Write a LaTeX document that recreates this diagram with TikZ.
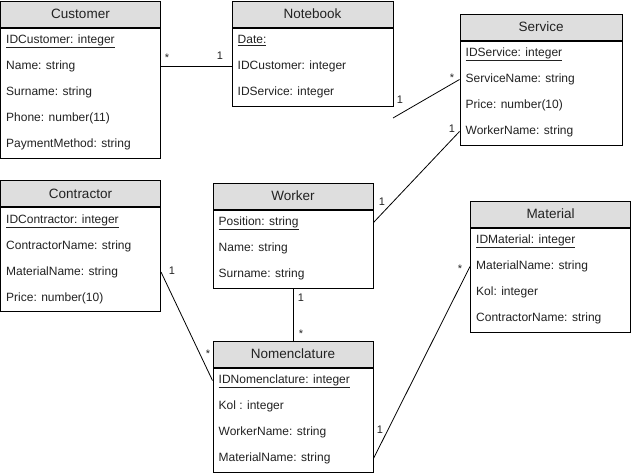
\documentclass[tikz,border=0pt]{standalone}
\usepackage{fontspec}
\setmainfont{Liberation Sans}
\usetikzlibrary{positioning}
\usepackage{xcolor}
\definecolor{headGray}{HTML}{DEDEDE}
\definecolor{textGray}{HTML}{222222}
\newcommand{\pxUnit}{1pt}
\newcommand{\rowHeight}{26pt}
\newcommand{\headHeight}{26pt}
\newcommand{\classWidth}{160pt}

\begin{document}
\begin{tikzpicture}[x=\pxUnit, y=-\pxUnit,
  classhead/.style={draw, fill=headGray, line width=1pt, minimum width=\classWidth, minimum height=\headHeight, inner sep=0pt, font=\fontsize{13.5}{16}\selectfont, text=textGray},
  classbody/.style={draw, fill=white, line width=1pt, minimum width=\classWidth, inner sep=0pt},
  attr/.style={anchor=west, inner sep=0pt, text height=9pt, text depth=3pt, font=\fontsize{12}{14}\selectfont, text=textGray},
  mult/.style={inner sep=0pt, text height=9pt, text depth=0pt, font=\fontsize{11}{13}\selectfont, text=textGray},
  link/.style={draw, line width=0.8pt}]
\useasboundingbox (0,0) rectangle (631,474);

% Customer
\node[classhead] (customer) at (80.5,14) {Customer};
\node[classbody, minimum height=130pt, below=0pt of customer] (customerbody) {};
\node[attr] (customer-1) at ([shift={(6pt,-13pt)}]customerbody.north west) {\underline{IDCustomer: integer}};
\node[attr] (customer-2) at ([yshift=-\rowHeight]customer-1.west) {Name: string};
\node[attr] (customer-3) at ([yshift=-\rowHeight]customer-2.west) {Surname: string};
\node[attr] (customer-4) at ([yshift=-\rowHeight]customer-3.west) {Phone: number(11)};
\node[attr] (customer-5) at ([yshift=-\rowHeight]customer-4.west) {PaymentMethod: string};

% Notebook
\node[classhead, minimum width=161pt] (notebook) at (312.5,14) {Notebook};
\node[classbody, minimum width=161pt, minimum height=78pt, below=0pt of notebook] (notebookbody) {};
\node[attr] (notebook-1) at ([shift={(6pt,-13pt)}]notebookbody.north west) {\underline{Date:}};
\node[attr] (notebook-2) at ([yshift=-\rowHeight]notebook-1.west) {IDCustomer: integer};
\node[attr] (notebook-3) at ([yshift=-\rowHeight]notebook-2.west) {IDService: integer};

% Service
\node[classhead, minimum width=162pt] (service) at (541,27) {Service};
\node[classbody, minimum width=162pt, minimum height=104pt, below=0pt of service] (servicebody) {};
\node[attr] (service-1) at ([shift={(6pt,-13pt)}]servicebody.north west) {\underline{IDService: integer}};
\node[attr] (service-2) at ([yshift=-\rowHeight]service-1.west) {ServiceName: string};
\node[attr] (service-3) at ([yshift=-\rowHeight]service-2.west) {Price: number(10)};
\node[attr] (service-4) at ([yshift=-\rowHeight]service-3.west) {WorkerName: string};

% Contractor
\node[classhead] (contractor) at (80.5,193.5) {Contractor};
\node[classbody, minimum height=104pt, below=0pt of contractor] (contractorbody) {};
\node[attr] (contractor-1) at ([shift={(6pt,-13pt)}]contractorbody.north west) {\underline{IDContractor: integer}};
\node[attr] (contractor-2) at ([yshift=-\rowHeight]contractor-1.west) {ContractorName: string};
\node[attr] (contractor-3) at ([yshift=-\rowHeight]contractor-2.west) {MaterialName: string};
\node[attr] (contractor-4) at ([yshift=-\rowHeight]contractor-3.west) {Price: number(10)};

% Worker
\node[classhead] (worker) at (293,196) {Worker};
\node[classbody, minimum height=78pt, below=0pt of worker] (workerbody) {};
\node[attr] (worker-1) at ([shift={(6pt,-13pt)}]workerbody.north west) {\underline{Position: string}};
\node[attr] (worker-2) at ([yshift=-\rowHeight]worker-1.west) {Name: string};
\node[attr] (worker-3) at ([yshift=-\rowHeight]worker-2.west) {Surname: string};

% Material
\node[classhead] (material) at (550.5,214) {Material};
\node[classbody, minimum height=104pt, below=0pt of material] (materialbody) {};
\node[attr] (material-1) at ([shift={(6pt,-13pt)}]materialbody.north west) {\underline{IDMaterial: integer}};
\node[attr] (material-2) at ([yshift=-\rowHeight]material-1.west) {MaterialName: string};
\node[attr] (material-3) at ([yshift=-\rowHeight]material-2.west) {Kol: integer};
\node[attr] (material-4) at ([yshift=-\rowHeight]material-3.west) {ContractorName: string};

% Nomenclature
\node[classhead] (nomenclature) at (293,354) {Nomenclature};
\node[classbody, minimum height=104pt, below=0pt of nomenclature] (nomenclaturebody) {};
\node[attr] (nomenclature-1) at ([shift={(6pt,-13pt)}]nomenclaturebody.north west) {\underline{IDNomenclature: integer}};
\node[attr] (nomenclature-2) at ([yshift=-\rowHeight]nomenclature-1.west) {Kol : integer};
\node[attr] (nomenclature-3) at ([yshift=-\rowHeight]nomenclature-2.west) {WorkerName: string};
\node[attr] (nomenclature-4) at ([yshift=-\rowHeight]nomenclature-3.west) {MaterialName: string};

% links
\coordinate (notebookEnd) at (393,118);
\draw[link] (customer-2.west -| customerbody.east) -- (notebook-2.west -| notebookbody.west);
\draw[link] (notebookEnd) -- (service-2.west -| servicebody.west);
\draw[link] (service-4.west -| servicebody.west) -- (worker-1.west -| workerbody.east);
\draw[link] (workerbody.south) -- (nomenclature.north);
\draw[link] (contractor-3.west -| contractorbody.east) -- (nomenclature-1.west -| nomenclaturebody.west);
\draw[link] (material-2.west -| materialbody.west) -- (nomenclature-4.west -| nomenclaturebody.east);

% multiplicities
\node[mult] (customerMult) at (167,57) {*};
\node[mult] (notebookMult) at (220,55) {1};
\node[mult] (serviceMultA) at (452,77) {*};
\node[mult] (notebookEndMult) at (400,99) {1};
\node[mult] (serviceMultB) at (452,128) {1};
\node[mult] (workerMultA) at (382,201) {1};
\node[mult] (workerMultB) at (301,297) {1};
\node[mult] (nomenclatureMultA) at (301,333) {*};
\node[mult] (contractorMult) at (172,270) {1};
\node[mult] (nomenclatureMultB) at (208,353) {*};
\node[mult] (materialMult) at (460,268) {*};
\node[mult] (nomenclatureMultC) at (380,429) {1};
\end{tikzpicture}
\end{document}
